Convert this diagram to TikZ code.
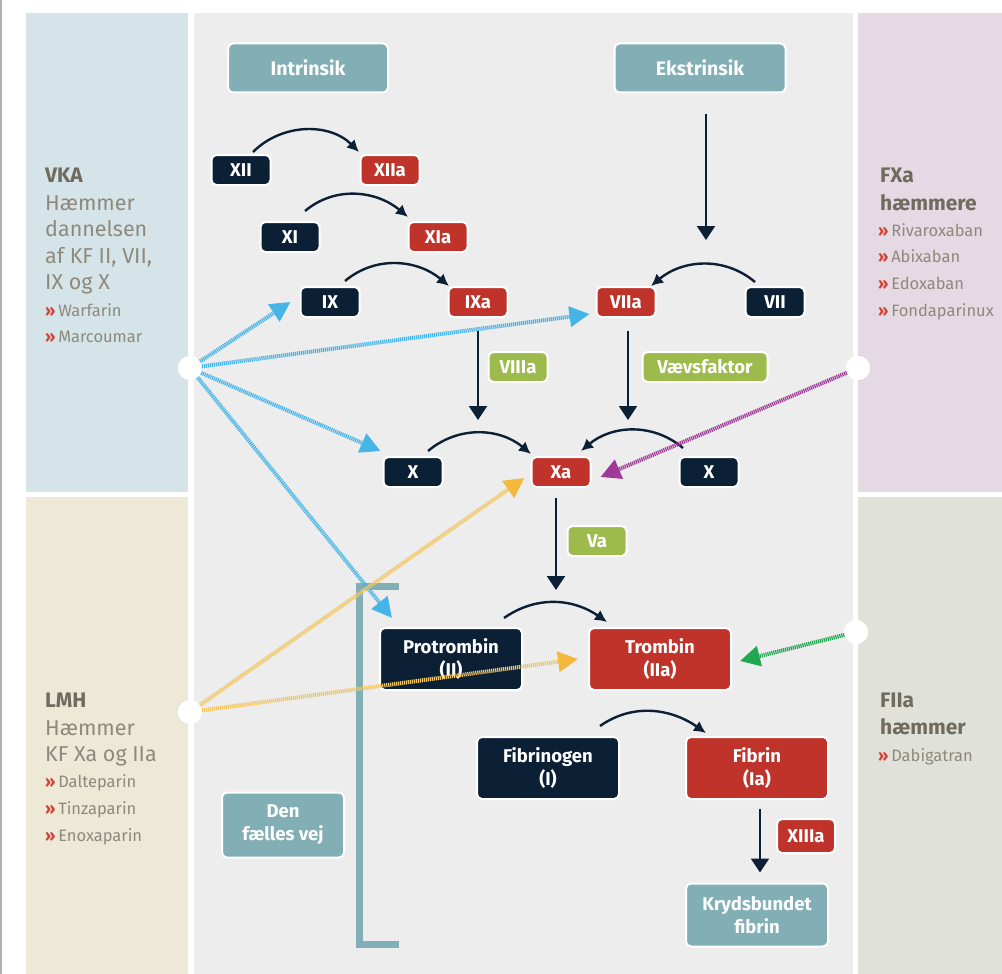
\documentclass[tikz,border=0pt]{standalone}
\usepackage{fontspec}
\setmainfont{Fira Sans}
\usetikzlibrary{arrows.meta}
\definecolor{navyc}{HTML}{0B1F35}
\definecolor{redc}{HTML}{C0332A}
\definecolor{tealc}{HTML}{82AEB5}
\definecolor{greenc}{HTML}{9DBB4C}
\definecolor{bluepanel}{HTML}{D4E4E8}
\definecolor{beigepanel}{HTML}{EEE8D6}
\definecolor{lilacpanel}{HTML}{E5D9E4}
\definecolor{greypanel}{HTML}{E0E2DA}
\definecolor{midpanel}{HTML}{EDEDED}
\definecolor{bluearr}{HTML}{45B5E8}
\definecolor{yellowarr}{HTML}{F2C660}
\definecolor{yellowtip}{HTML}{F4B93C}
\definecolor{purplearr}{HTML}{A0399A}
\definecolor{greenarr}{HTML}{1FA850}
\definecolor{titlec}{HTML}{6F6B5F}
\definecolor{bodyc}{HTML}{8E897C}
\definecolor{guillc}{HTML}{D0443A}
\begin{document}
\begin{tikzpicture}[x=1pt,y=-1pt,
  box/.style={rounded corners=5pt, draw=white, line width=2pt, text=white,
    font=\bfseries\fontsize{18.5}{23}\selectfont, align=center, inner sep=0pt},
  navybox/.style={box, fill=navyc, minimum width=59pt, minimum height=30pt},
  redbox/.style={box, fill=redc, minimum width=59pt, minimum height=30pt},
  greenbox/.style={box, fill=greenc, minimum width=59pt, minimum height=30pt},
  tealbox/.style={box, fill=tealc},
  bignavy/.style={box, fill=navyc, minimum width=142pt, minimum height=62pt},
  bigred/.style={box, fill=redc, minimum width=142pt, minimum height=62pt},
  arcarrow/.style={draw=navyc, line width=2.4pt, -{Latex[length=12pt,width=12pt]}},
  downarrow/.style={draw=navyc, line width=2.4pt, -{Triangle[length=14pt,width=18pt]}},
  inhib/.style={line width=4pt, dash pattern=on 1.2pt off 0.8pt},
  blueinh/.style={inhib, draw=bluearr, -{Triangle[length=20pt,width=20pt,fill=bluearr,color=bluearr]}},
  yellowinh/.style={inhib, draw=yellowarr, -{Triangle[length=20pt,width=20pt,fill=yellowtip,color=yellowtip]}},
  purpleinh/.style={inhib, draw=purplearr, -{Triangle[length=20pt,width=20pt,fill=purplearr,color=purplearr]}},
  greeninh/.style={inhib, draw=greenarr, -{Triangle[length=20pt,width=20pt,fill=greenarr,color=greenarr]}},
  circ/.style={circle, fill=white, minimum size=24pt, inner sep=0pt},
  ptitle/.style={anchor=base west, inner sep=0pt, text=titlec, font=\bfseries\fontsize{21}{25}\selectfont},
  pbody/.style={anchor=base west, inner sep=0pt, text=bodyc, font=\fontsize{21.5}{25}\selectfont},
  plist/.style={anchor=base west, inner sep=0pt, text=bodyc, font=\fontsize{16.5}{20}\selectfont},
]
\useasboundingbox (0,0) rectangle (1002,974);
\fill[white] (0,0) rectangle (1002,974);
\fill[black!30] (0,0) rectangle (1.5,974);
% panels
\fill[bluepanel] (26,13) rectangle (188,492);
\fill[beigepanel] (26,497) rectangle (188,974);
\fill[midpanel] (194,13) rectangle (853,974);
\fill[lilacpanel] (858,13) rectangle (1002,492);
\fill[greypanel] (858,497) rectangle (1002,974);

% panel texts
\newcommand{\gm}{{\color{guillc}\bfseries »}\,}
\node[ptitle] at (45,182) {VKA};
\node[pbody] at (45,210) {Hæmmer};
\node[pbody] at (45,236) {dannelsen};
\node[pbody] at (45,263) {af KF II, VII,};
\node[pbody] at (45,289) {IX og X};
\node[plist] at (45,316) {\gm Warfarin};
\node[plist] at (45,342) {\gm Marcoumar};

\node[ptitle] at (45,707) {LMH};
\node[pbody] at (45,735) {Hæmmer};
\node[pbody] at (45,761) {KF Xa og IIa};
\node[plist] at (45,787) {\gm Dalteparin};
\node[plist] at (45,814) {\gm Tinzaparin};
\node[plist] at (45,841) {\gm Enoxaparin};

\node[ptitle] at (880,182) {FXa};
\node[ptitle] at (880,210) {hæmmere};
\node[plist] at (878,236) {\gm Rivaroxaban};
\node[plist] at (878,262) {\gm Abixaban};
\node[plist] at (878,289) {\gm Edoxaban};
\node[plist] at (878,316) {\gm Fondaparinux};

\node[ptitle] at (880,707) {FIIa};
\node[ptitle] at (880,734) {hæmmer};
\node[plist] at (878,761) {\gm Dabigatran};

% bracket
\draw[tealc, line width=7pt, line cap=butt, line join=miter] (399,586) -- (359,586) -- (359,944) -- (399,944);

% nodes
\node[tealbox, minimum width=160pt, minimum height=49pt, font=\bfseries\fontsize{19.5}{23}\selectfont] (intr) at (308,68) {Intrinsik};
\node[tealbox, minimum width=171pt, minimum height=49pt, font=\bfseries\fontsize{19.5}{23}\selectfont] (ekst) at (700,68) {Ekstrinsik};
\node[navybox] (XII) at (241,170) {XII};
\node[redbox] (XIIa) at (390,170) {XIIa};
\node[navybox] (XI) at (290,237) {XI};
\node[redbox] (XIa) at (438,237) {XIa};
\node[navybox] (IX) at (330,302) {IX};
\node[redbox] (IXa) at (478,302) {IXa};
\node[redbox] (VIIa) at (626,302) {VIIa};
\node[navybox] (VII) at (775,302) {VII};
\node[greenbox] (VIIIa) at (518,367) {VIIIa};
\node[greenbox, minimum width=125pt] (vaev) at (705,367) {Vævsfaktor};
\node[navybox] (Xl) at (413,472) {X};
\node[redbox] (Xa) at (561,472) {Xa};
\node[navybox] (Xr) at (709,472) {X};
\node[greenbox] (Va) at (597,541) {Va};
\node[bignavy] (prot) at (451,659) {Protrombin\\(II)};
\node[bigred] (trom) at (660,659) {Trombin\\(IIa)};
\node[bignavy] (fbg) at (548,768) {Fibrinogen\\(I)};
\node[bigred] (fib) at (757,768) {Fibrin\\(Ia)};
\node[redbox, minimum width=58pt, minimum height=34pt] (XIIIa) at (806,836) {XIIIa};
\node[tealbox, minimum width=142pt, minimum height=63pt] (kryd) at (757,915) {Krydsbundet\\fibrin};
\node[tealbox, minimum width=122pt, minimum height=65pt] (fvej) at (283,825) {Den\\fælles vej};

% circles
\node[circ] (vkac) at (190,368) {};
\node[circ] (lmhc) at (190,712) {};
\node[circ] (fxac) at (858,368) {};
\node[circ] (fiiac) at (856,632) {};

% arcs
\draw[arcarrow] ([xshift=12pt,yshift=2pt]XII.north) to[out=45,in=135] ([xshift=-31pt,yshift=2pt]XIIa.north);
\draw[arcarrow] ([xshift=15pt,yshift=10pt]XI.north) to[out=40,in=140] ([xshift=-30pt,yshift=4pt]XIa.north);
\draw[arcarrow] ([xshift=15pt,yshift=5pt]IX.north) to[out=40,in=140] ([xshift=-29pt,yshift=0pt]IXa.north);
\draw[arcarrow] ([xshift=-20pt,yshift=4pt]VII.north) to[out=140,in=40] ([xshift=25pt,yshift=0pt]VIIa.north);
\draw[arcarrow] ([xshift=15pt,yshift=5pt]Xl.north) to[out=40,in=140] ([xshift=-30pt,yshift=2pt]Xa.north);
\draw[arcarrow] ([xshift=-26pt,yshift=8pt]Xr.north) to[out=140,in=40] ([xshift=20pt,yshift=5pt]Xa.north);
\draw[arcarrow] ([xshift=53pt,yshift=9pt]prot.north) to[out=35,in=145] ([xshift=-53pt,yshift=5pt]trom.north);
\draw[arcarrow] ([xshift=52pt,yshift=10pt]fbg.north) to[out=35,in=145] ([xshift=-51pt,yshift=3pt]fib.north);

% straight down arrows
\coordinate (ektip) at (706,240);
\coordinate (ixtip) at (478,420);
\coordinate (viitip) at (628,420);
\coordinate (xatip) at (556,590);
\draw[downarrow] ([xshift=6pt,yshift=-20pt]ekst.south) -- (ektip);
\draw[downarrow] ([yshift=-13pt]IXa.south) -- (ixtip);
\draw[downarrow] ([xshift=2pt,yshift=-13pt]VIIa.south) -- (viitip);
\draw[downarrow] ([xshift=-5pt,yshift=-10pt]Xa.south) -- (xatip);
\draw[downarrow] ([xshift=3pt,yshift=-9pt]fib.south) -- ([xshift=3pt,yshift=10pt]kryd.north);

% inhibitor arrows
\draw[blueinh] (vkac.center) -- ([xshift=-9pt]IX.west);
\draw[blueinh] (vkac.center) -- ([xshift=-6pt,yshift=4pt]VIIa.south west);
\draw[blueinh] (vkac.center) -- ([xshift=-2pt,yshift=5pt]Xl.north west);
\draw[blueinh] (vkac.center) -- ([xshift=13pt,yshift=9pt]prot.north west);
\draw[yellowinh] (lmhc.center) -- ([xshift=-6pt,yshift=10pt]Xa.south west);
\draw[yellowinh] (lmhc.center) -- ([xshift=-10pt]trom.west);
\draw[purpleinh] (fxac.center) -- ([xshift=9pt,yshift=-5pt]Xa.east);
\draw[greeninh] (fiiac.center) -- ([xshift=8pt,yshift=-2pt]trom.east);
% circles on top
\node[circ] at (vkac) {};
\node[circ] at (lmhc) {};
\node[circ] at (fxac) {};
\node[circ] at (fiiac) {};
\end{tikzpicture}
\end{document}
